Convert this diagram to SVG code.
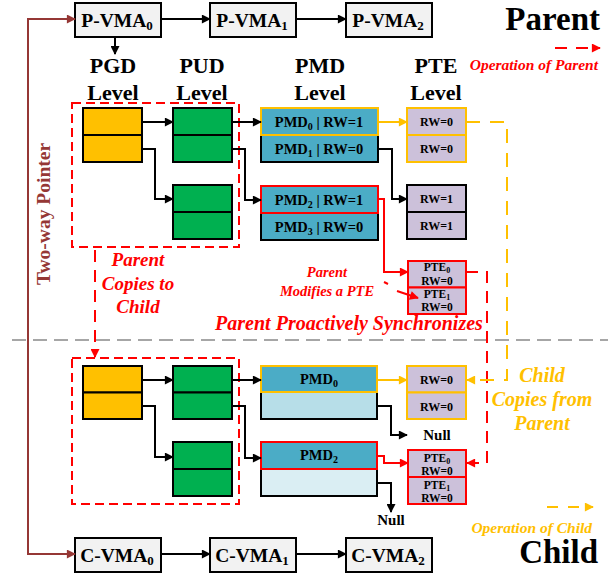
<svg xmlns="http://www.w3.org/2000/svg" width="616" height="573" viewBox="0 0 616 573">
<defs>
<style>
text{font-family:"Liberation Serif","Times New Roman",serif;font-weight:bold;fill:#000}
.vma{fill:#F2F2F2;stroke:#000;stroke-width:2}
.vt{font-size:19.5px;text-anchor:middle}
.lvl{font-size:22px;text-anchor:middle}
.pgd{fill:#FFC000;stroke:#000;stroke-width:2}
.pud{fill:#00B050;stroke:#000;stroke-width:2}
.pmd{fill:#4BACC6;stroke:#000;stroke-width:2}
.pmdl1{fill:#B7DEE8;stroke:#000;stroke-width:2}
.pmdl2{fill:#DAEEF3;stroke:#000;stroke-width:2}
.pte{fill:#CCC1DA;stroke:#000;stroke-width:2}
.ylw{stroke:#FFC000}
.red{stroke:#FF0000}
.mt{font-size:14.5px;text-anchor:middle}
.rt{font-size:12px;text-anchor:middle}
.st{font-size:11.5px;text-anchor:middle}
.ital{font-style:italic}
.rtxt{fill:#FF0000}
.ytxt{fill:#FFC000}
.blk{fill:none;stroke:#000;stroke-width:2;marker-end:url(#ab)}
.rl{fill:none;stroke:#FF0000;stroke-width:2;marker-end:url(#ar)}
.rd{fill:none;stroke:#FF0000;stroke-width:2;stroke-dasharray:12 8;marker-end:url(#ar)}
.yl{fill:none;stroke:#FFC000;stroke-width:2;marker-end:url(#ay)}
.yd{fill:none;stroke:#FFC000;stroke-width:2;stroke-dasharray:14 10;marker-end:url(#ay)}
.dbox{fill:none;stroke:#FF0000;stroke-width:2;stroke-dasharray:9 5}
</style>
<marker id="ab" viewBox="0 0 10 10" refX="9" refY="5" markerWidth="10" markerHeight="9" markerUnits="userSpaceOnUse" orient="auto"><path d="M0,0 L10,5 L0,10 z" fill="#000"/></marker>
<marker id="ar" viewBox="0 0 10 10" refX="9" refY="5" markerWidth="10" markerHeight="9" markerUnits="userSpaceOnUse" orient="auto"><path d="M0,0 L10,5 L0,10 z" fill="#FF0000"/></marker>
<marker id="ay" viewBox="0 0 10 10" refX="9" refY="5" markerWidth="10" markerHeight="9" markerUnits="userSpaceOnUse" orient="auto"><path d="M0,0 L10,5 L0,10 z" fill="#FFC000"/></marker>
<marker id="abr" viewBox="0 0 10 10" refX="9" refY="5" markerWidth="10" markerHeight="9" markerUnits="userSpaceOnUse" orient="auto-start-reverse"><path d="M0,0 L10,5 L0,10 z" fill="#953735"/></marker>
</defs>

<!-- separator -->
<path d="M12,340 H608" stroke="#A6A6A6" stroke-width="2" stroke-dasharray="14 7" fill="none"/>

<!-- dashed group boxes -->
<rect id="parent-copy-region" class="dbox" x="72" y="103" width="167" height="144"/>
<rect id="child-copy-region" class="dbox" x="72" y="358" width="167" height="146"/>

<!-- VMA nodes -->
<g id="p-vma0"><rect class="vma" x="75" y="3" width="86" height="34"/><text class="vt" x="117" y="27">P-VMA<tspan font-size="13" dy="3">0</tspan></text></g>
<g id="p-vma1"><rect class="vma" x="210" y="3" width="86" height="34"/><text class="vt" x="252" y="27">P-VMA<tspan font-size="13" dy="3">1</tspan></text></g>
<g id="p-vma2"><rect class="vma" x="346" y="3" width="86" height="34"/><text class="vt" x="388" y="27">P-VMA<tspan font-size="13" dy="3">2</tspan></text></g>
<g id="c-vma0"><rect class="vma" x="75" y="538" width="86" height="34"/><text class="vt" x="117" y="562">C-VMA<tspan font-size="13" dy="3">0</tspan></text></g>
<g id="c-vma1"><rect class="vma" x="210" y="538" width="86" height="34"/><text class="vt" x="252" y="562">C-VMA<tspan font-size="13" dy="3">1</tspan></text></g>
<g id="c-vma2"><rect class="vma" x="346" y="538" width="86" height="34"/><text class="vt" x="388" y="562">C-VMA<tspan font-size="13" dy="3">2</tspan></text></g>

<!-- level labels -->
<g id="labels">
<text class="lvl" x="113" y="73">PGD</text><text class="lvl" x="113" y="100">Level</text>
<text class="lvl" x="202" y="73">PUD</text><text class="lvl" x="202" y="100">Level</text>
<text class="lvl" x="320" y="73">PMD</text><text class="lvl" x="320" y="100">Level</text>
<text class="lvl" x="436" y="73">PTE</text><text class="lvl" x="436" y="100">Level</text>
<text x="600" y="30" font-size="33" text-anchor="end">Parent</text>
<text x="598" y="563" font-size="33" text-anchor="end">Child</text>
</g>

<!-- parent tables -->
<g id="p-pgd"><rect class="pgd" x="83" y="108" width="59" height="27"/><rect class="pgd" x="83" y="135" width="59" height="27"/></g>
<g id="p-pud-a"><rect class="pud" x="173" y="108" width="59" height="27"/><rect class="pud" x="173" y="135" width="59" height="27"/></g>
<g id="p-pud-b"><rect class="pud" x="173" y="185" width="59" height="27"/><rect class="pud" x="173" y="212" width="59" height="27"/></g>
<g id="p-pmd-a">
<rect class="pmd" x="261" y="135" width="117" height="27"/>
<rect class="pmd ylw" x="261" y="108" width="117" height="27"/>
<text class="mt" x="319" y="127">PMD<tspan font-size="10" dy="3">0</tspan><tspan dy="-3"> | RW=1</tspan></text>
<text class="mt" x="319" y="154">PMD<tspan font-size="10" dy="3">1</tspan><tspan dy="-3"> | RW=0</tspan></text>
</g>
<g id="p-pmd-b">
<rect class="pmd" x="261" y="213" width="117" height="27"/>
<rect class="pmd red" x="261" y="186" width="117" height="27"/>
<text class="mt" x="319" y="205">PMD<tspan font-size="10" dy="3">2</tspan><tspan dy="-3"> | RW=1</tspan></text>
<text class="mt" x="319" y="232">PMD<tspan font-size="10" dy="3">3</tspan><tspan dy="-3"> | RW=0</tspan></text>
</g>
<g id="p-pte-a">
<rect class="pte ylw" x="407" y="108" width="59" height="27"/><rect class="pte ylw" x="407" y="135" width="59" height="27"/>
<text class="rt" x="436.5" y="126">RW=0</text><text class="rt" x="436.5" y="153">RW=0</text>
</g>
<g id="p-pte-b">
<rect class="pte" x="407" y="185" width="59" height="27"/><rect class="pte" x="407" y="212" width="59" height="27"/>
<text class="rt" x="436.5" y="203">RW=1</text><text class="rt" x="436.5" y="230">RW=1</text>
</g>
<g id="p-pte-c">
<rect class="pte red" x="408" y="261" width="58" height="26.5"/><rect class="pte red" x="408" y="287.5" width="58" height="26.5"/>
<text class="st" x="437" y="271">PTE<tspan font-size="8" dy="2">0</tspan></text><text class="st" x="437" y="284.5">RW=0</text>
<text class="st" x="437" y="297.5">PTE<tspan font-size="8" dy="2">1</tspan></text><text class="st" x="437" y="311">RW=0</text>
</g>

<!-- child tables -->
<g id="c-pgd"><rect class="pgd" x="83" y="366" width="59" height="26.5"/><rect class="pgd" x="83" y="392.5" width="59" height="26.5"/></g>
<g id="c-pud-a"><rect class="pud" x="173" y="366" width="59" height="26.5"/><rect class="pud" x="173" y="392.5" width="59" height="26.5"/></g>
<g id="c-pud-b"><rect class="pud" x="173" y="442" width="59" height="27"/><rect class="pud" x="173" y="469" width="59" height="27"/></g>
<g id="c-pmd-a">
<rect class="pmdl1" x="261" y="392" width="116" height="27"/>
<rect class="pmd ylw" x="261" y="366" width="116" height="26"/>
<text class="mt" x="319" y="384">PMD<tspan font-size="10" dy="3">0</tspan></text>
</g>
<g id="c-pmd-b">
<rect class="pmdl2" x="261" y="469" width="116" height="27"/>
<rect class="pmd red" x="261" y="442" width="116" height="27"/>
<text class="mt" x="319" y="460">PMD<tspan font-size="10" dy="3">2</tspan></text>
</g>
<g id="c-pte-a">
<rect class="pte ylw" x="407" y="366" width="59" height="26.5"/><rect class="pte ylw" x="407" y="392.5" width="59" height="26.5"/>
<text class="rt" x="436.5" y="384">RW=0</text><text class="rt" x="436.5" y="411">RW=0</text>
</g>
<g id="c-pte-b">
<rect class="pte red" x="408" y="450" width="58" height="27"/><rect class="pte red" x="408" y="477" width="58" height="27"/>
<text class="st" x="437" y="462">PTE<tspan font-size="8" dy="2">0</tspan></text><text class="st" x="437" y="475">RW=0</text>
<text class="st" x="437" y="489">PTE<tspan font-size="8" dy="2">1</tspan></text><text class="st" x="437" y="502">RW=0</text>
</g>
<g id="null-a"><text x="437" y="440" font-size="15" text-anchor="middle">Null</text></g>
<g id="null-b"><text x="391" y="525" font-size="15" text-anchor="middle">Null</text></g>

<!-- annotations -->
<g id="annotations">
<text x="50" y="214" font-size="19.5" text-anchor="middle" fill="#953735" style="fill:#953735" transform="rotate(-90 50 214)">Two-way Pointer</text>
<text class="ital rtxt" x="138" y="266" font-size="19" text-anchor="middle">Parent</text>
<text class="ital rtxt" x="138" y="290" font-size="19" text-anchor="middle">Copies to</text>
<text class="ital rtxt" x="138" y="313" font-size="19" text-anchor="middle">Child</text>
<text class="ital rtxt" x="327" y="277" font-size="14.5" text-anchor="middle">Parent</text>
<text class="ital rtxt" x="327" y="296" font-size="14.5" text-anchor="middle">Modifies a PTE</text>
<text class="ital rtxt" x="349" y="330" font-size="20" text-anchor="middle">Parent Proactively Synchronizes</text>
<text class="ital ytxt" x="542" y="382" font-size="20" text-anchor="middle">Child</text>
<text class="ital ytxt" x="542" y="406" font-size="20" text-anchor="middle">Copies from</text>
<text class="ital ytxt" x="542" y="430" font-size="20" text-anchor="middle">Parent</text>
<text class="ital rtxt" x="598" y="70" font-size="15.5" text-anchor="end">Operation of Parent</text>
<text class="ital ytxt" x="592" y="533" font-size="15.5" text-anchor="end">Operation of Child</text>
</g>

<!-- connectors -->
<g id="connectors">
<path class="blk" d="M161,19 H210"/>
<path class="blk" d="M296,19 H346"/>
<path class="blk" d="M115,37 V54"/>
<path class="blk" d="M161,554 H210"/>
<path class="blk" d="M296,554 H346"/>
<path d="M75,19 H28 V554 H75" fill="none" stroke="#953735" stroke-width="2" marker-start="url(#abr)" marker-end="url(#abr)"/>
<path class="blk" d="M142,122 H173"/>
<path class="blk" d="M142,149 H155 V199 H173"/>
<path class="blk" d="M232,122 H261"/>
<path class="blk" d="M232,149 H245 V200 H261"/>
<path class="yl" d="M378,122 H407"/>
<path class="blk" d="M378,149 H392 V199 H407"/>
<path class="rl" d="M378,199 H384 V272 H408"/>
<path class="rd" d="M466,272 H487 V463 H467"/>
<path class="yd" d="M466,122 H507 V380 H467"/>
<path class="rd" d="M95,250 V357"/>
<path d="M384,282 L388,284" stroke="#FF0000" stroke-width="2" fill="none"/>
<path class="rl" d="M397,291 L418,298"/>
<path class="blk" d="M142,380 H173"/>
<path class="blk" d="M142,406 H155 V457 H173"/>
<path class="blk" d="M232,380 H261"/>
<path class="blk" d="M232,406 H245 V458 H261"/>
<path class="yl" d="M377,380 H407"/>
<path class="blk" d="M377,406 H391 V435 H407"/>
<path class="rl" d="M377,456 H384 V463 H408"/>
<path class="blk" d="M377,483 H391 V512"/>
<path class="rd" d="M555,48 H600" style="stroke-dasharray:12 9"/>
<path class="yd" d="M547,507 H593" style="stroke-dasharray:11 10"/>
</g>
</svg>
